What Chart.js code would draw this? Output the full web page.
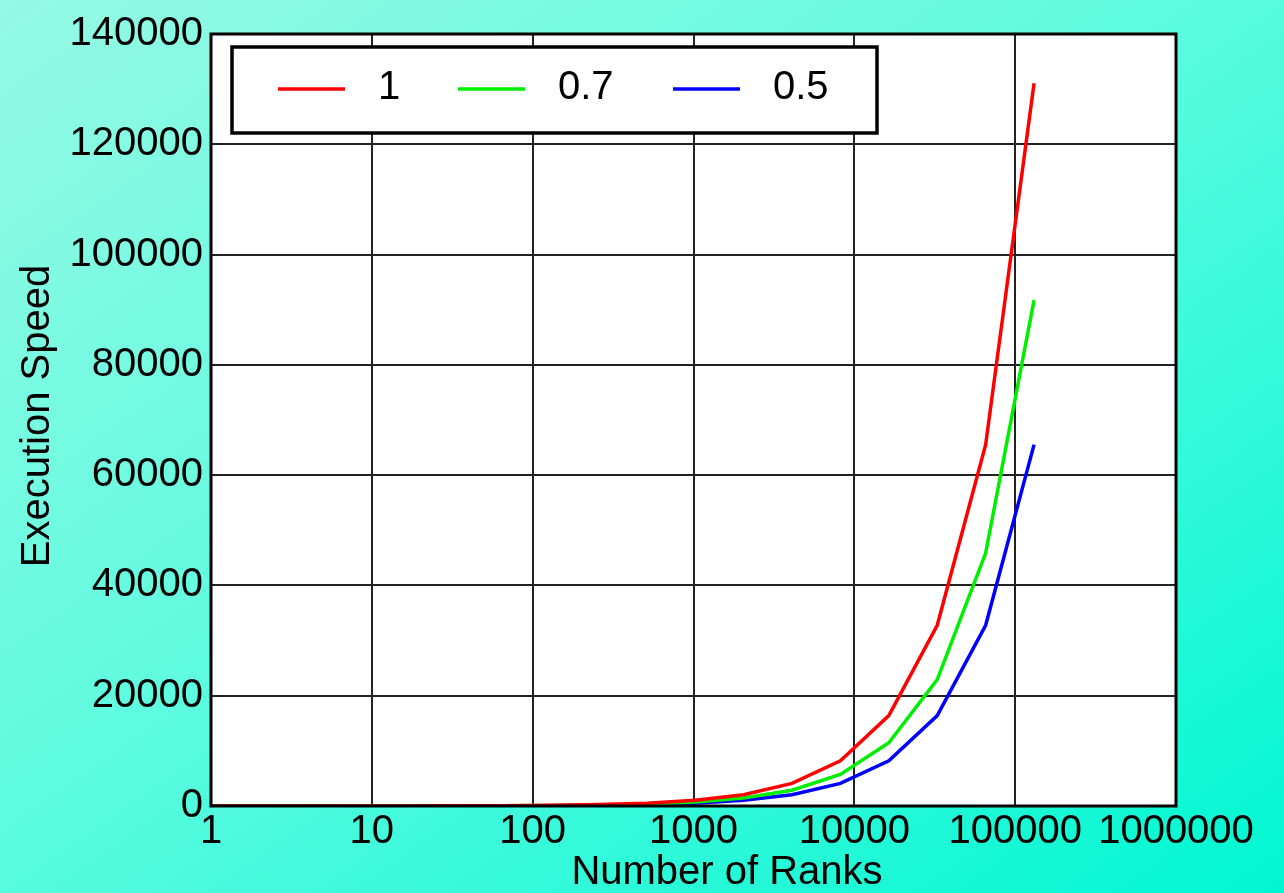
<!DOCTYPE html>
<html>
<head>
<meta charset="utf-8">
<script src="https://cdn.jsdelivr.net/npm/chart.js@4/dist/chart.umd.min.js"></script>
<style>
    html, body { margin: 0; padding: 0; }
    body {
        width: 1284px; height: 893px; overflow: hidden;
        background: linear-gradient(to bottom right, #95f9e4 0%, #5ffbe0 45%, #00f7d2 100%);
    }
    #wrap { position: relative; width: 1284px; height: 893px; }
</style>
</head>
<body>
<div id="wrap"><canvas id="speedChart"></canvas></div>
<script>
// Number of ranks (x) and execution speed per efficiency factor
const ranks = [1, 2, 4, 8, 16, 32, 64, 128, 256, 512, 1024, 2048, 4096, 8192, 16384, 32768, 65536, 131072];
const speed1 = [1, 2, 4, 8, 16, 32, 64, 128, 256, 512, 1024, 2048, 4096, 8192, 16384, 32768, 65536, 131072];
const speed07 = [0.7, 1.4, 2.8, 5.6, 11.2, 22.4, 44.8, 89.6, 179.2, 358.4, 716.8, 1433.6, 2867.2, 5734.4, 11468.8, 22937.6, 45875.2, 91750.4];
const speed05 = [0.5, 1, 2, 4, 8, 16, 32, 64, 128, 256, 512, 1024, 2048, 4096, 8192, 16384, 32768, 65536];
const seriesLabels = ['1', '0.7', '0.5'];
const seriesColors = ['#ff0000', '#00ee00', '#0000ff'];
const xTicks = [1, 10, 100, 1000, 10000, 100000, 1000000];
const yTicks = [0, 20000, 40000, 60000, 80000, 100000, 120000, 140000];

const FONT = '"Liberation Sans", Arial, Helvetica, sans-serif';

function toPoints(ys) {
    return ranks.map((r, i) => ({ x: r, y: ys[i] }));
}

// white plot area, frame, axis titles and boxed legend
const decorPlugin = {
    id: 'decor',
    beforeDraw(chart) {
        const a = chart.chartArea;
        const ctx = chart.ctx;
        ctx.save();
        ctx.fillStyle = '#ffffff';
        ctx.fillRect(a.left, a.top, a.right - a.left, a.bottom - a.top);
        ctx.restore();
    },
    afterDraw(chart) {
        const a = chart.chartArea;
        const ctx = chart.ctx;
        ctx.save();
        ctx.strokeStyle = '#000';
        ctx.lineWidth = 3;
        ctx.strokeRect(a.left, a.top, a.right - a.left, a.bottom - a.top);

        // axis titles
        ctx.fillStyle = '#000';
        ctx.font = '40px ' + FONT;
        ctx.textAlign = 'center';
        ctx.textBaseline = 'middle';
        ctx.fillText('Number of Ranks', 727, 873);
        ctx.translate(38, 416);
        ctx.rotate(-Math.PI / 2);
        ctx.fillText('Execution Speed', 0, 0);
        ctx.restore();

        // legend box
        ctx.save();
        ctx.fillStyle = '#fff';
        ctx.fillRect(232, 47, 645, 86);
        ctx.strokeStyle = '#000';
        ctx.lineWidth = 3.5;
        ctx.strokeRect(232, 47, 645, 86);
        const lineX = [278, 458, 673];
        ctx.font = '40px ' + FONT;
        ctx.textAlign = 'left';
        ctx.textBaseline = 'middle';
        seriesLabels.forEach((lab, i) => {
            ctx.strokeStyle = seriesColors[i];
            ctx.lineWidth = 3.5;
            ctx.beginPath();
            ctx.moveTo(lineX[i], 89);
            ctx.lineTo(lineX[i] + 67, 89);
            ctx.stroke();
            ctx.fillStyle = '#000';
            ctx.fillText(lab, lineX[i] + 100, 88);
        });
        ctx.restore();
    }
};

const canvas = document.getElementById('speedChart');
const ctx = canvas.getContext('2d');
const datasets = [speed1, speed07, speed05].map((ys, i) => ({
    label: seriesLabels[i],
    data: toPoints(ys),
    borderColor: seriesColors[i],
    backgroundColor: seriesColors[i],
    borderWidth: 3.5,
    pointRadius: 0,
    tension: 0,
    fill: false
}));

new Chart(ctx, {
    type: 'line',
    data: { datasets: datasets },
    options: {
        responsive: true,
        maintainAspectRatio: false,
        animation: false,
        layout: { padding: { top: 34, right: 108, left: 0, bottom: 0 } },
        scales: {
            x: {
                type: 'logarithmic',
                min: 1,
                max: 1000000,
                afterBuildTicks: s => { s.ticks = xTicks.map(v => ({ value: v })); },
                afterFit: s => { s.height = 87; },
                ticks: {
                    color: '#000',
                    font: { family: FONT, size: 40 },
                    padding: 2,
                    maxRotation: 0,
                    autoSkip: false,
                    callback: v => String(v)
                },
                grid: { color: '#222', lineWidth: 2, drawTicks: false },
                border: { display: false }
            },
            y: {
                type: 'linear',
                min: 0,
                max: 140000,
                afterBuildTicks: s => { s.ticks = yTicks.map(v => ({ value: v })); },
                afterFit: s => { s.width = 211; },
                ticks: {
                    color: '#000',
                    font: { family: FONT, size: 40 },
                    padding: 8,
                    callback: v => String(v)
                },
                grid: { color: '#222', lineWidth: 2, drawTicks: false },
                border: { display: false }
            }
        },
        plugins: {
            legend: { display: false },
            tooltip: { enabled: false }
        }
    },
    plugins: [decorPlugin]
});
</script>
</body>
</html>
